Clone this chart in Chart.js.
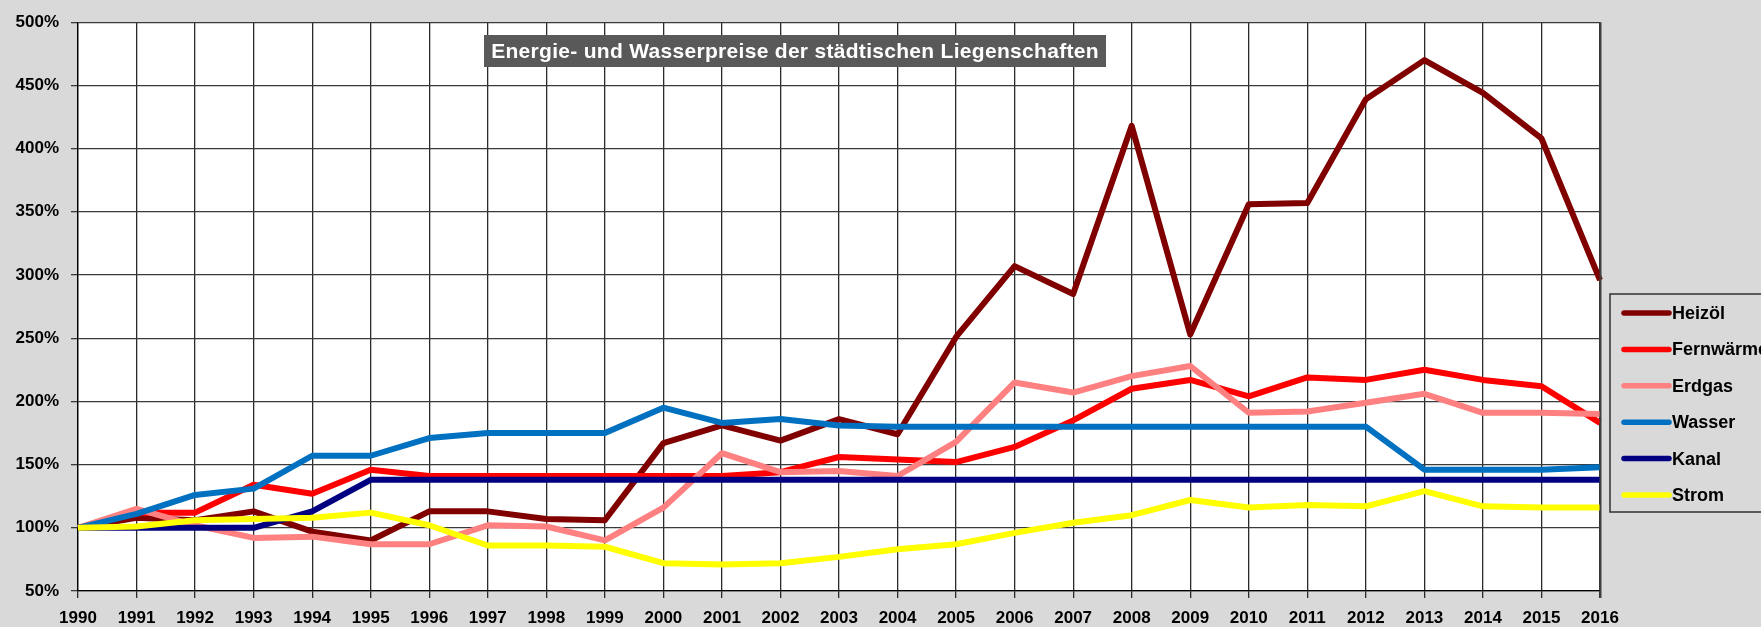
<!DOCTYPE html>
<html>
<head>
<meta charset="utf-8">
<script src="https://cdn.jsdelivr.net/npm/chart.js@4/dist/chart.umd.min.js"></script>
<style>
  html, body { margin: 0; padding: 0; background: #d9d9d9; overflow: hidden; }
  canvas { display: block; }
</style>
</head>
<body>
<canvas id="preisChart" width="1761" height="627"></canvas>
<script>
const years = ["1990","1991","1992","1993","1994","1995","1996","1997","1998","1999","2000","2001","2002","2003","2004","2005","2006","2007","2008","2009","2010","2011","2012","2013","2014","2015","2016"];

// Werte in Prozent (1990 = 100 %)
const heizoel    = [100,108,106,113,97,90,113,113,107,106,167,181,169,186,174,251,307,285,418,253,356,357,439,470,444,408,296];
const fernwaerme = [100,112,112,134,127,146,141,141,141,141,141,141,144,156,154,152,164,185,210,217,204,219,217,225,217,212,183];
const erdgas     = [100,115,102,92,93,87,87,102,101,90,116,159,144,145,141,168,215,207,220,228,191,192,199,206,191,191,190];
const wasser     = [100,111,126,131,157,157,171,175,175,175,195,183,186,181,180,180,180,180,180,180,180,180,180,146,146,146,148];
const kanal      = [100,100,100,100,113,138,138,138,138,138,138,138,138,138,138,138,138,138,138,138,138,138,138,138,138,138,138];
const strom      = [100,101,106,107,108,112,102,86,86,85,72,71,72,77,83,87,96,104,110,122,116,118,117,129,117,116,116];

const seriesNames  = ["Heizöl","Fernwärme","Erdgas","Wasser","Kanal","Strom"];
const seriesColors = ["#800000","#ff0000","#ff8080","#0070c0","#000080","#ffff00"];
const seriesValues = [heizoel, fernwaerme, erdgas, wasser, kanal, strom];

const yTicks = [50,100,150,200,250,300,350,400,450,500];

const titleText = "Energie- und Wasserpreise der städtischen Liegenschaften";
const fontFamily = "'Liberation Sans', Arial, sans-serif";

// grauer Hintergrund + weiße Zeichenfläche
const backgroundPlugin = {
    id: "background",
    beforeDraw(chart) {
        const c = chart.ctx;
        const a = chart.chartArea;
        c.save();
        c.fillStyle = "#d9d9d9";
        c.fillRect(0, 0, chart.width, chart.height);
        c.fillStyle = "#ffffff";
        c.fillRect(a.left, a.top, a.right - a.left, a.bottom - a.top);
        c.restore();
    }
};

// Titel im Diagramm und Legende rechts
const overlayPlugin = {
    id: "overlay",
    afterDraw(chart) {
        const c = chart.ctx;
        const a = chart.chartArea;
        c.save();

        // rechter Rand etwas kräftiger
        c.strokeStyle = "#404040";
        c.lineWidth = 2;
        c.beginPath();
        c.moveTo(a.right + 0.5, a.top);
        c.lineTo(a.right + 0.5, a.bottom + 7);
        c.stroke();

        c.fillStyle = "#595959";
        c.fillRect(484, 35, 622, 32);
        c.fillStyle = "#ffffff";
        c.font = "bold 21px " + fontFamily;
        c.letterSpacing = "0.3px";
        c.textAlign = "center";
        c.textBaseline = "middle";
        c.fillText(titleText, 795, 52);
        c.letterSpacing = "0px";

        const boxLeft = 1610, boxTop = 294;
        c.strokeStyle = "#303030";
        c.lineWidth = 1.5;
        c.strokeRect(boxLeft, boxTop, 200, 218);

        c.font = "bold 18px " + fontFamily;
        c.textAlign = "left";
        chart.data.datasets.forEach((ds, i) => {
            const y = boxTop + 19 + i * 36.4;
            c.strokeStyle = ds.borderColor;
            c.lineWidth = 5.5;
            c.lineCap = "round";
            c.beginPath();
            c.moveTo(boxLeft + 14, y);
            c.lineTo(boxLeft + 59, y);
            c.stroke();
            c.fillStyle = "#000000";
            c.fillText(ds.label, boxLeft + 62, y + 1);
        });
        c.restore();
    }
};

const ctx = document.getElementById("preisChart").getContext("2d");

new Chart(ctx, {
    type: "line",
    data: {
        labels: years,
        datasets: seriesNames.map((name, i) => ({
            label: name,
            data: seriesValues[i],
            borderColor: seriesColors[i],
            backgroundColor: seriesColors[i],
            borderWidth: 6,
            borderJoinStyle: "round",
            pointRadius: 0,
            tension: 0,
            order: seriesNames.length - i
        }))
    },
    options: {
        responsive: false,
        animation: false,
        layout: { padding: { top: 9, right: 161, left: 0, bottom: 0 } },
        plugins: {
            legend: { display: false },
            tooltip: { enabled: false }
        },
        scales: {
            x: {
                grid: { color: "#2a2a2a", lineWidth: 1.3, tickLength: 7 },
                border: { color: "#000000", width: 1.3 },
                ticks: {
                    color: "#000000",
                    font: { family: fontFamily, size: 17, weight: "bold" },
                    padding: 10,
                    maxRotation: 0,
                    autoSkip: false
                },
                afterFit(scale) { scale.height = 36; }
            },
            y: {
                min: 50,
                max: 500,
                afterBuildTicks(scale) { scale.ticks = yTicks.map(v => ({ value: v })); },
                grid: { color: "#3a3a3a", lineWidth: 1.3, tickLength: 7 },
                border: { color: "#000000", width: 1.3 },
                ticks: {
                    color: "#000000",
                    font: { family: fontFamily, size: 17, weight: "bold" },
                    padding: 12,
                    callback: v => v + "%"
                },
                afterFit(scale) { scale.width = 78; }
            }
        }
    },
    plugins: [backgroundPlugin, overlayPlugin]
});
</script>
</body>
</html>
